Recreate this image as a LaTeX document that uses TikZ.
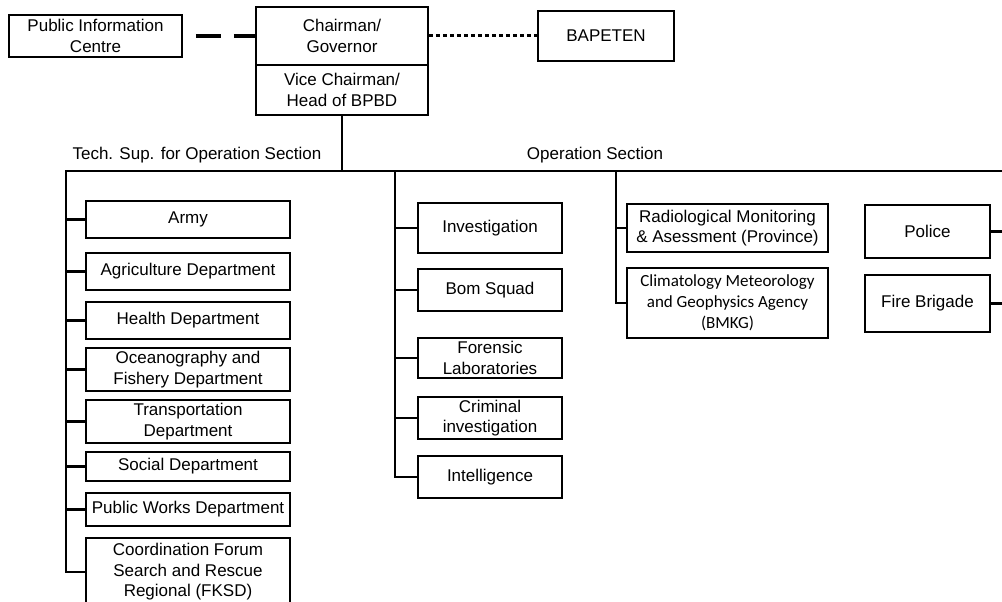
\documentclass[tikz,border=0pt]{standalone}
\usepackage{fontspec}
\setmainfont{Liberation Sans}
\newfontfamily\calib{Carlito}
\begin{document}
\begin{tikzpicture}[x=1pt,y=-1pt,
  box/.style={draw=black, line width=1.8pt, fill=white, inner sep=0pt, align=center,
    font=\fontsize{17}{20.5}\selectfont},
  lbl/.style={inner sep=0pt, font=\fontsize{17}{20.5}\selectfont},
  conn/.style={line width=2.4pt, line cap=rect},
]
\useasboundingbox (0,0) rectangle (1002,602);

% top level
\node[box, minimum width=173pt, minimum height=42pt] (pic) at (95.5,36) {Public Information\\Centre};
\node[box, minimum width=172pt, minimum height=58pt] (chair) at (342,36) {Chairman/\\Governor};
\node[box, minimum width=172pt, minimum height=50pt] (vice) at (342,90) {Vice Chairman/\\Head of BPBD};
\node[box, minimum width=136pt, minimum height=50pt] (bapeten) at (606,36) {BAPETEN};

\draw[line width=3.5pt, dash pattern=on 25pt off 13pt, dash phase=25pt] (pic.east) -- (chair.west);
\draw[line width=3pt, dash pattern=on 4pt off 3pt] (chair.east) -- (bapeten.west);

% section labels
\node[lbl] (techlbl) at (197,155) {Tech. Sup. for Operation Section};
\node[lbl] (oplbl) at (595,155) {Operation Section};

% bus coordinates
\coordinate (top) at (342,171);
\coordinate (lbus) at (66,171);
\coordinate (rend) at (1002,171);
\coordinate (mbus) at (395,171);
\coordinate (tbus) at (616,171);

% left column
\node[box, minimum width=204pt, minimum height=37pt] (army) at (188,219.5) {Army};
\node[box, minimum width=204pt, minimum height=37pt] (agri) at (188,271.5) {Agriculture Department};
\node[box, minimum width=204pt, minimum height=37pt] (health) at (188,320.5) {Health Department};
\node[box, minimum width=204pt, minimum height=43pt] (ocean) at (188,369.5) {Oceanography and\\Fishery Department};
\node[box, minimum width=204pt, minimum height=43pt] (trans) at (188,421.5) {Transportation\\Department};
\node[box, minimum width=204pt, minimum height=29pt] (social) at (188,466.5) {Social Department};
\node[box, minimum width=204pt, minimum height=33pt] (works) at (188,509.5) {Public Works Department};
\node[box, minimum width=204pt, minimum height=68pt] (coord) at (188,572) {Coordination Forum\\Search and Rescue\\Regional (FKSD)};

% middle column
\node[box, minimum width=144pt, minimum height=50pt] (invest) at (490,228) {Investigation};
\node[box, minimum width=144pt, minimum height=42pt] (bom) at (490,290) {Bom Squad};
\node[box, minimum width=144pt, minimum height=40pt] (foren) at (490,358) {Forensic\\Laboratories};
\node[box, minimum width=144pt, minimum height=42pt] (crim) at (490,418) {Criminal\\investigation};
\node[box, minimum width=144pt, minimum height=42pt] (intel) at (490,477) {Intelligence};

% third column
\node[box, minimum width=201pt, minimum height=48pt] (radio) at (727.5,228) {Radiological Monitoring\\\& Asessment (Province)};
\node[box, minimum width=201pt, minimum height=70pt, font=\calib\fontsize{17}{21}\selectfont] (clim) at (727.5,303) {Climatology Meteorology\\and Geophysics Agency\\(BMKG)};

% fourth column
\node[box, minimum width=125pt, minimum height=53pt] (police) at (927.5,231.5) {Police};
\node[box, minimum width=125pt, minimum height=57pt] (fire) at (927.5,303.5) {Fire Brigade};
\coordinate (pend) at (1002,231.5);
\coordinate (fend) at (1002,303.5);

% connectors
\draw[conn] (vice.south) -- (top);
\draw[conn, line cap=butt] (lbus) -- (rend);
\draw[conn] (lbus) |- (coord.west);
\foreach \n in {army,agri,health,ocean,trans,social,works}
  \draw[conn] (lbus |- \n.west) -- (\n.west);
\draw[conn] (mbus) |- (intel.west);
\foreach \n in {invest,bom,foren,crim}
  \draw[conn] (mbus |- \n.west) -- (\n.west);
\draw[conn] (tbus) |- (clim.west);
\draw[conn] (tbus |- radio.west) -- (radio.west);
\draw[conn, line cap=butt] (police.east) -- (pend);
\draw[conn, line cap=butt] (fire.east) -- (fend);
\end{tikzpicture}
\end{document}
